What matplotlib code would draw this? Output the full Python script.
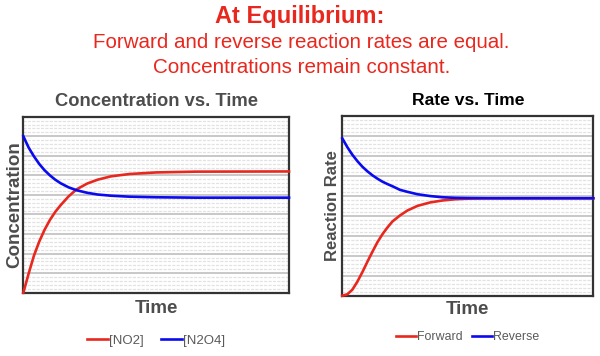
import numpy as np
import matplotlib
matplotlib.use("Agg")
import matplotlib.pyplot as plt

plt.rcParams['font.family'] = ['Liberation Sans', 'DejaVu Sans']

# values (time in % of the axis width)
conc_time = [0, 2, 4, 6, 8, 10, 12, 14, 17, 20, 24, 28, 33, 40, 50, 65, 100]
no2 = [0, 0.98, 1.9, 2.62, 3.22, 3.72, 4.13, 4.47, 4.92, 5.28, 5.58, 5.78, 5.95, 6.07, 6.15, 6.19, 6.2]
n2o4 = [8.0, 7.42, 6.97, 6.58, 6.26, 6.0, 5.78, 5.6, 5.39, 5.24, 5.11, 5.02, 4.96, 4.91, 4.88, 4.86, 4.86]

rate_time = [0, 2, 4, 6, 8, 10, 12, 14, 16, 18, 20, 23, 26, 30, 35, 40, 45, 50, 60, 100]
forward = [0, 0.07, 0.3, 0.7, 1.18, 1.7, 2.2, 2.68, 3.08, 3.42, 3.72, 4.02, 4.27, 4.5, 4.67, 4.77, 4.83, 4.86, 4.88, 4.88]
reverse = [7.88, 7.44, 7.06, 6.74, 6.46, 6.23, 6.03, 5.86, 5.71, 5.59, 5.48, 5.3, 5.2, 5.08, 4.99, 4.93, 4.9, 4.89, 4.88, 4.88]

RED = '#e8281e'
BLUE = '#0a0af0'
GRAY = '#4d4d4d'

fig = plt.figure(figsize=(6, 3.56), dpi=100)

def px(x, y):
    return x / 600, 1 - y / 356

def setup(ax):
    ax.set_xlim(0, 100)
    ax.set_ylim(0, 9)
    ax.set_yticks(np.arange(0, 10, 1))
    ax.set_yticks(np.arange(0, 9, 0.2), minor=True)
    ax.set_xticks([])
    ax.tick_params(which='both', left=False, labelleft=False)
    ax.grid(which='minor', axis='y', color='#e2e2e2', lw=0.9, ls=(0, (2.5, 1)))
    ax.grid(which='major', axis='y', color='#c4c4c4', lw=1.3)
    ax.set_axisbelow(True)
    for s in ax.spines.values():
        s.set_color('#333333')
        s.set_linewidth(1.6)

ax1 = fig.add_axes([0.0389, 0.1778, 0.4428, 0.4944])
setup(ax1)
ax1.plot(conc_time, no2, color=RED, lw=1.9, label='[NO2]', clip_on=False, zorder=3)
ax1.plot(conc_time, n2o4, color=BLUE, lw=1.9, label='[N2O4]', clip_on=False, zorder=3)
ax1.set_title('Concentration vs. Time', fontsize=13.2, fontweight='bold', color=GRAY, pad=8)
ax1.set_xlabel('Time', fontsize=13.5, fontweight='bold', color=GRAY, labelpad=5)
ax1.set_ylabel('Concentration', fontsize=13.5, fontweight='bold', color=GRAY, labelpad=0)
ax1.legend(loc='upper center', bbox_to_anchor=(0.5, -0.17), ncol=2, frameon=False,
           fontsize=9.5, handlelength=1.6, handletextpad=0.1, columnspacing=1.3,
           labelcolor='#5a5a5a')

ax2 = fig.add_axes([0.5705, 0.1694, 0.4183, 0.5048])
setup(ax2)
ax2.plot(rate_time, forward, color=RED, lw=1.9, label='Forward', clip_on=False, zorder=3)
ax2.plot(rate_time, reverse, color=BLUE, lw=1.9, label='Reverse', clip_on=False, zorder=3)
ax2.set_title('Rate vs. Time', fontsize=12.6, fontweight='bold', color='black', pad=8)
ax2.set_xlabel('Time', fontsize=13.5, fontweight='bold', color=GRAY, labelpad=4)
ax2.set_ylabel('Reaction Rate', fontsize=12, fontweight='bold', color=GRAY, labelpad=2)
ax2.legend(loc='upper center', bbox_to_anchor=(0.5, -0.135), ncol=2, frameon=False,
           fontsize=8.9, handlelength=1.6, handletextpad=0.1, columnspacing=0.8,
           labelcolor='#5a5a5a')

fig.text(*px(300, 22.7), 'At Equilibrium:', ha='center', va='baseline',
         fontsize=17, fontweight='bold', color=RED)
fig.text(*px(301, 48), 'Forward and reverse reaction rates are equal.', ha='center',
         va='baseline', fontsize=14.8, color=RED)
fig.text(*px(302, 72.7), 'Concentrations remain constant.', ha='center',
         va='baseline', fontsize=14.9, color=RED)

fig.savefig('out.png', dpi=100)
